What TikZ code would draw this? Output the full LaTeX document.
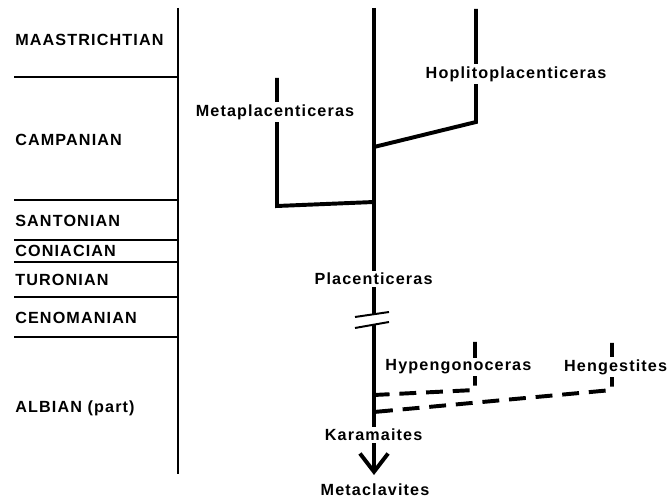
\documentclass[tikz,border=0pt]{standalone}
\usepackage{fontspec}
\setmainfont{Liberation Sans}[LetterSpace=7]
\usetikzlibrary{arrows.meta,positioning}

\begin{document}
\begin{tikzpicture}[stage/.style={anchor=west, inner sep=0pt, font=\fontsize{11.5}{13}\selectfont\bfseries}, taxon/.style={fill=white, inner sep=1.5pt, font=\fontsize{11.5}{13}\selectfont\bfseries}, axis/.style={line width=1.4pt}, bound/.style={line width=1.3pt}, lineage/.style={line width=2.8pt}, inferred/.style={line width=2.8pt, dash pattern=on 12pt off 7pt}, brk/.style={line width=1.4pt}]
\useasboundingbox (0,0) rectangle (16.775,12.5);
% time scale
\coordinate (axtop) at (4.45,12.3);
\coordinate (axbot) at (4.45,0.65);
\draw[axis] (axtop) -- (axbot);
\foreach \y in {10.575,7.5,6.5,5.95,5.075,4.075}
  \draw[bound] (0.35,\y) -- (4.45,\y);
\node[stage] (maas) at (0.375,11.5) {MAASTRICHTIAN};
\node[stage] (camp) at (0.375,9.0) {CAMPANIAN};
\node[stage] (sant) at (0.375,6.975) {SANTONIAN};
\node[stage] (coni) at (0.375,6.225) {CONIACIAN};
\node[stage] (turo) at (0.375,5.5) {TURONIAN};
\node[stage] (ceno) at (0.375,4.55) {CENOMANIAN};
\node[stage] (albi) at (0.375,2.3) {ALBIAN (part)};
% main lineage
\coordinate (top) at (9.35,12.3);
\coordinate (brkA) at (9.35,4.6375);
\coordinate (brkB) at (9.35,4.375);
\coordinate (tip) at (9.35,0.625);
\draw[lineage] (top) -- (brkA);
\draw[lineage, -{Straight Barb[length=13pt,width=20pt]}] (brkB) -- (tip);
\coordinate (s1a) at (8.875,4.575);
\coordinate (s1b) at (9.725,4.7);
\coordinate (s2a) at (8.875,4.3);
\coordinate (s2b) at (9.725,4.45);
\draw[brk] (s1a) -- (s1b);
\draw[brk] (s2a) -- (s2b);
% side branches
\coordinate (mtop) at (6.925,10.55);
\coordinate (mbend) at (6.925,7.35);
\coordinate (mjoin) at (9.35,7.45);
\draw[lineage] (mtop) -- (mbend) -- (mjoin);
\coordinate (htop) at (11.9,12.275);
\coordinate (hbend) at (11.9,9.45);
\coordinate (hjoin) at (9.35,8.825);
\draw[lineage] (htop) -- (hbend) -- (hjoin);
\coordinate (ytop) at (11.875,3.95);
\coordinate (ybend) at (11.875,2.75);
\coordinate (yjoin) at (9.35,2.625);
\draw[inferred] (ytop) -- (ybend) -- (yjoin);
\coordinate (gtop) at (15.3,3.925);
\coordinate (gbend) at (15.3,2.75);
\coordinate (gjoin) at (9.35,2.2);
\draw[inferred] (gtop) -- (gbend) -- (gjoin);
% names
\node[taxon] (meta) at (6.875,9.7) {Metaplacenticeras};
\node[taxon] (hoplo) at (12.9,10.65) {Hoplitoplacenticeras};
\node[taxon] (plac) at (9.34,5.525) {Placenticeras};
\node[taxon] (hypen) at (11.46,3.325) {Hypengonoceras};
\node[taxon] (heng) at (15.39,3.325) {Hengestites};
\node[taxon] (kara) at (9.34,1.625) {Karamaites};
\node[taxon] (metac) at (9.375,0.25) {Metaclavites};
\end{tikzpicture}
\end{document}
